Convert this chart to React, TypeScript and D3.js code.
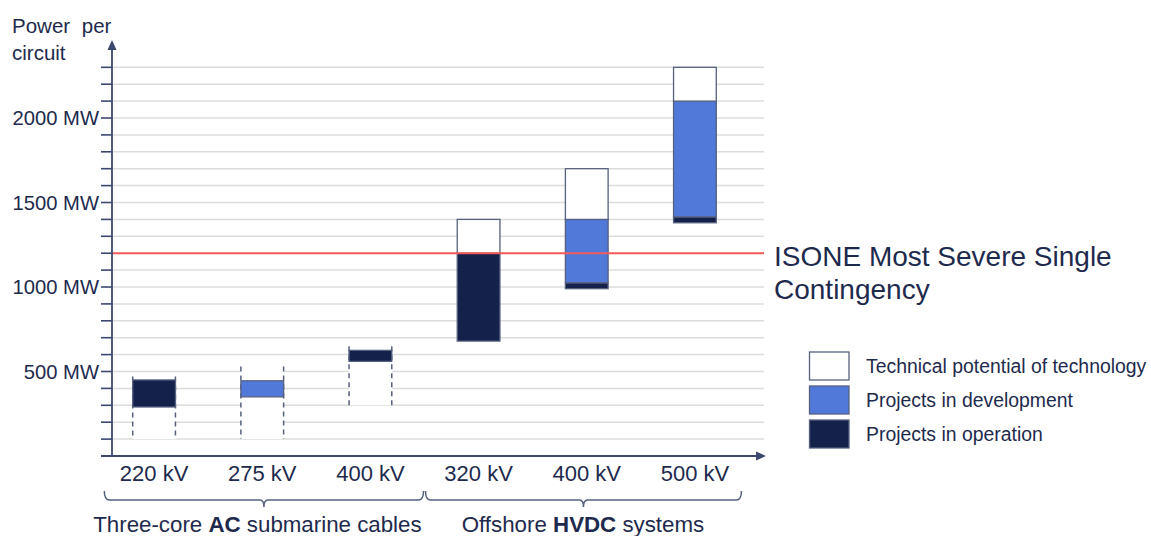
import React from "react";
import * as d3 from "d3";

const categoryIds = ["ac220", "ac275", "ac400", "dc320", "dc400", "dc500"];
const categoryLabels = ["220 kV", "275 kV", "400 kV", "320 kV", "400 kV", "500 kV"];

// AC dashed range (technical potential, dashed box)
const acRangeLow = [100, 100, 300, null, null, null];
const acRangeHigh = [470, 530, 650, null, null, null];

// Projects in operation
const operationLow = [290, null, 560, 680, 990, 1380];
const operationHigh = [450, null, 625, 1200, 1025, 1415];

// Projects in development
const developmentLow = [null, 350, null, null, 1025, 1415];
const developmentHigh = [null, 445, null, null, 1400, 2100];

// Technical potential (HVDC)
const potentialLow = [null, null, null, 1200, 1400, 2100];
const potentialHigh = [null, null, null, 1400, 1700, 2300];

const yTicks = d3.range(100, 2301, 100);
const yLabelTicks = [500, 1000, 1500, 2000];
const contingency = 1200;

const legendItems = ["Technical potential of technology", "Projects in development", "Projects in operation"];
const groupLabels = [
  { pre: "Three-core ", bold: "AC", post: " submarine cables" },
  { pre: "Offshore ", bold: "HVDC", post: " systems" },
];

const TEXT = "#1e2a4d";
const AXIS = "#3c4870";
const DARK = "#13214b";
const BLUE = "#5079d9";
const EDGE = "#56617f";
const GRID = "#dcdcdc";
const RED = "#f55a5a";
const FONT = "'Liberation Sans', Arial, sans-serif";

export default function App() {
  const W = 1151;
  const H = 536;
  const axisX = 112;
  const axisY = 456;
  const gridRight = 764;

  const x = d3.scalePoint<string>().domain(categoryIds).range([100, 749]).padding(0.5);
  const step = x.step();
  const bw = step * 0.395;
  const y = d3.scaleLinear().domain([0, 2300]).range([axisY, axisY - 2300 * 0.169]);

  const segs: { i: number; lo: number; hi: number; fill: string }[] = [];
  categoryIds.forEach((_, i) => {
    if (operationLow[i] != null) segs.push({ i, lo: operationLow[i]!, hi: operationHigh[i]!, fill: DARK });
    if (developmentLow[i] != null) segs.push({ i, lo: developmentLow[i]!, hi: developmentHigh[i]!, fill: BLUE });
    if (potentialLow[i] != null) segs.push({ i, lo: potentialLow[i]!, hi: potentialHigh[i]!, fill: "#ffffff" });
  });

  const braceY0 = 491;
  const braceY = 500;
  const braceTip = 507;
  const brace = (x1: number, x2: number) => {
    const cx = (x1 + x2) / 2;
    return `M${x1},${braceY0} Q${x1},${braceY} ${x1 + 5},${braceY} L${cx - 4},${braceY} Q${cx},${braceY} ${cx},${braceTip} Q${cx},${braceY} ${cx + 4},${braceY} L${x2 - 5},${braceY} Q${x2},${braceY} ${x2},${braceY0}`;
  };
  const c0 = x(categoryIds[0])!;
  const c2 = x(categoryIds[2])!;
  const c3 = x(categoryIds[3])!;
  const c5 = x(categoryIds[5])!;
  const left = c0 - step * 0.46;
  const mid = (c2 + c3) / 2;
  const right = c5 + step * 0.43;
  const groupCenters = [(left + mid) / 2 - 7, (mid + right) / 2];

  return (
    <svg width={W} height={H} style={{ position: "absolute", left: 0, top: 0, background: "#fff" }} fontFamily={FONT}>
      {/* gridlines */}
      {yTicks.map((t) => (
        <line key={"g" + t} x1={axisX} x2={gridRight} y1={y(t)} y2={y(t)} stroke={GRID} strokeWidth={1.5} />
      ))}

      {/* AC dashed boxes */}
      {categoryIds.map((id, i) =>
        acRangeLow[i] == null ? null : (
          <g key={"ac" + id}>
            <rect x={x(id)! - bw / 2} y={y(acRangeHigh[i]!)} width={bw} height={y(acRangeLow[i]!) - y(acRangeHigh[i]!)} fill="#fff" />
            <line x1={x(id)! - bw / 2} x2={x(id)! - bw / 2} y1={y(acRangeHigh[i]!)} y2={y(acRangeLow[i]!)} stroke={EDGE} strokeWidth={1.5} strokeDasharray="5,4" />
            <line x1={x(id)! + bw / 2} x2={x(id)! + bw / 2} y1={y(acRangeHigh[i]!)} y2={y(acRangeLow[i]!)} stroke={EDGE} strokeWidth={1.5} strokeDasharray="5,4" />
          </g>
        )
      )}

      {/* bar segments */}
      {segs.map((s, k) => (
        <rect key={"s" + k} x={x(categoryIds[s.i])! - bw / 2} y={y(s.hi)} width={bw} height={y(s.lo) - y(s.hi)} fill={s.fill} stroke={EDGE} strokeWidth={1.3} />
      ))}

      {/* contingency line */}
      <line x1={axisX} x2={gridRight} y1={y(contingency)} y2={y(contingency)} stroke={RED} strokeWidth={2} />
      <text x={774} y={266} fontSize={28} fill={TEXT}>ISONE Most Severe Single</text>
      <text x={774} y={299} fontSize={28} fill={TEXT}>Contingency</text>

      {/* y axis */}
      <line x1={axisX} x2={axisX} y1={axisY} y2={46} stroke={AXIS} strokeWidth={1.8} />
      <path d={`M${axisX - 4.5},${50} L${axisX},${40} L${axisX + 4.5},${50} Z`} fill={AXIS} />
      {yTicks.map((t) => (
        <line key={"t" + t} x1={101} x2={axisX} y1={y(t)} y2={y(t)} stroke={AXIS} strokeWidth={1.6} />
      ))}
      {yLabelTicks.map((t) => (
        <text key={"l" + t} x={99} y={y(t)} dy="0.36em" textAnchor="end" fontSize={20.2} fill={TEXT}>
          {t} MW
        </text>
      ))}
      <text x={12} y={32.5} fontSize={20.5} fill={TEXT} wordSpacing={6}>Power per</text>
      <text x={12} y={60} fontSize={20.5} fill={TEXT}>circuit</text>

      {/* x axis */}
      <line x1={101} x2={758} y1={axisY} y2={axisY} stroke={AXIS} strokeWidth={1.8} />
      <path d={`M${756},${axisY - 4.5} L${766},${axisY} L${756},${axisY + 4.5} Z`} fill={AXIS} />
      {categoryIds.map((id, i) => (
        <text key={"x" + id} x={x(id)!} y={480.5} textAnchor="middle" fontSize={22} fill={TEXT}>
          {categoryLabels[i]}
        </text>
      ))}

      {/* braces */}
      <path d={brace(left, mid - 1)} fill="none" stroke={EDGE} strokeWidth={1.5} />
      <path d={brace(mid + 1, right)} fill="none" stroke={EDGE} strokeWidth={1.5} />
      {groupLabels.map((g, i) => (
        <text key={"gl" + i} x={groupCenters[i]} y={531.5} textAnchor="middle" fontSize={22.3} fill={TEXT}>
          {g.pre}
          <tspan fontWeight="bold">{g.bold}</tspan>
          {g.post}
        </text>
      ))}

      {/* legend */}
      {legendItems.map((label, i) => {
        const ly = 352 + i * 34;
        const fill = i === 0 ? "#fff" : i === 1 ? BLUE : DARK;
        return (
          <g key={"lg" + i}>
            <rect x={809.5} y={ly} width={39.5} height={28} fill={fill} stroke={EDGE} strokeWidth={1.3} />
            <text x={866} y={ly + 14} dy="0.36em" fontSize={19.4} fill={TEXT}>
              {label}
            </text>
          </g>
        );
      })}
    </svg>
  );
}
